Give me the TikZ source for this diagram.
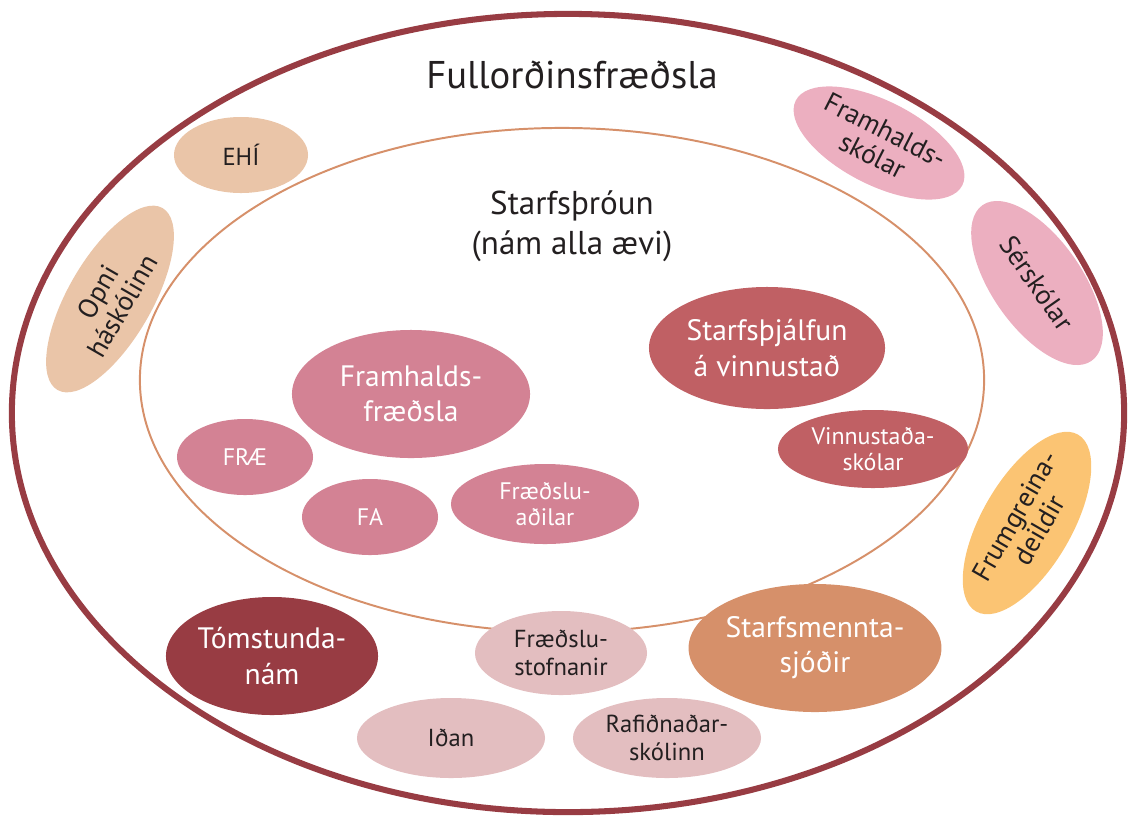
\documentclass[tikz,border=0pt]{standalone}
\usepackage{fontspec}
\setmainfont{PT Sans}
\usetikzlibrary{shapes.geometric}

\definecolor{ringred}{HTML}{983C43}
\definecolor{ringorange}{HTML}{D6906A}
\definecolor{peach}{HTML}{EAC5A8}
\definecolor{rosepink}{HTML}{ECAFC0}
\definecolor{yelloworange}{HTML}{FBC473}
\definecolor{brickred}{HTML}{C06064}
\definecolor{oldpink}{HTML}{D38294}
\definecolor{palerose}{HTML}{E3BEC0}
\definecolor{darktext}{HTML}{231F20}

\begin{document}
\begin{tikzpicture}[x=0.025cm, y=-0.025cm,
	blob/.style={ellipse, inner sep=0pt, align=center, fill=#1},
	lighttext/.style={text=darktext, font=\fontsize{17.5}{19.5}\selectfont},
	tilttext/.style={text=darktext, font=\fontsize{19.5}{20}\selectfont},
	smallwhite/.style={text=white, font=\fontsize{17}{19}\selectfont},
	bigwhite/.style={text=white, font=\fontsize{21}{25}\selectfont}]
	\useasboundingbox (0,0) rectangle (1128,817);
	%outer ring
	\draw[ringred, line width=4.3pt] (568,413) ellipse [x radius=13.9cm, y radius=9.975cm];
	\node[text=darktext, font=\fontsize{27.5}{30}\selectfont] (title) at (572,75) {Fullorðinsfræðsla};
	%inner ring
	\draw[ringorange, line width=1.4pt] (562,380) ellipse [x radius=10.55cm, y radius=6.3cm];
	\node[text=darktext, align=center, font=\fontsize{23.5}{28.5}\selectfont] (inner) at (572,226) {Starfsþróun\\(nám alla ævi)};
	%outer ring members
	\node[blob=peach, lighttext, minimum width=3.35cm, minimum height=1.9cm] (ehi) at (241,155) {EHÍ};
	\node[blob=peach, tilttext, minimum width=5.25cm, minimum height=2.1cm, rotate=60] (opni) at (110,299) {Opni\\háskólinn};
	\node[blob=rosepink, tilttext, minimum width=4.65cm, minimum height=2.1cm, rotate=-27] (fhsk) at (879,143) {Framhalds-\\skólar};
	\node[blob=rosepink, tilttext, minimum width=4.75cm, minimum height=2.25cm, rotate=-55] (sersk) at (1037,283) {Sérskólar};
	\node[blob=yelloworange, tilttext, minimum width=4.75cm, minimum height=2.25cm, rotate=60] (frumg) at (1027,523) {Frumgreina-\\deildir};
	%inner ring members
	\node[blob=brickred, bigwhite, minimum width=5.9cm, minimum height=3.05cm] (sthj) at (767,348) {Starfsþjálfun\\á vinnustað};
	\node[blob=brickred, smallwhite, minimum width=4.75cm, minimum height=1.95cm] (vinn) at (873,449) {Vinnustaða-\\skólar};
	\node[blob=oldpink, bigwhite, minimum width=5.95cm, minimum height=3.2cm] (fhfr) at (411,394) {Framhalds-\\fræðsla};
	\node[blob=oldpink, smallwhite, minimum width=3.4cm, minimum height=1.9cm] (frae) at (245,457) {FRÆ};
	\node[blob=oldpink, smallwhite, minimum width=3.4cm, minimum height=1.9cm] (fa) at (370,517) {FA};
	\node[blob=oldpink, smallwhite, minimum width=4.7cm, minimum height=2cm] (fradil) at (545,504) {Fræðslu-\\aðilar};
	%bottom
	\node[blob=ringred, bigwhite, minimum width=5.3cm, minimum height=2.95cm] (toms) at (272,656) {Tómstunda-\\nám};
	\node[blob=palerose, lighttext, minimum width=4.3cm, minimum height=2.1cm] (frstof) at (561,653) {Fræðslu-\\stofnanir};
	\node[blob=palerose, lighttext, minimum width=4.7cm, minimum height=2cm] (idan) at (451,738) {Iðan};
	\node[blob=palerose, lighttext, minimum width=4.7cm, minimum height=2cm] (rafid) at (667,738) {Rafiðnaðar-\\skólinn};
	\node[blob=ringorange, bigwhite, minimum width=6.05cm, minimum height=3.2cm] (sjodir) at (815,648) {Starfsmennta-\\sjóðir};
\end{tikzpicture}
\end{document}
